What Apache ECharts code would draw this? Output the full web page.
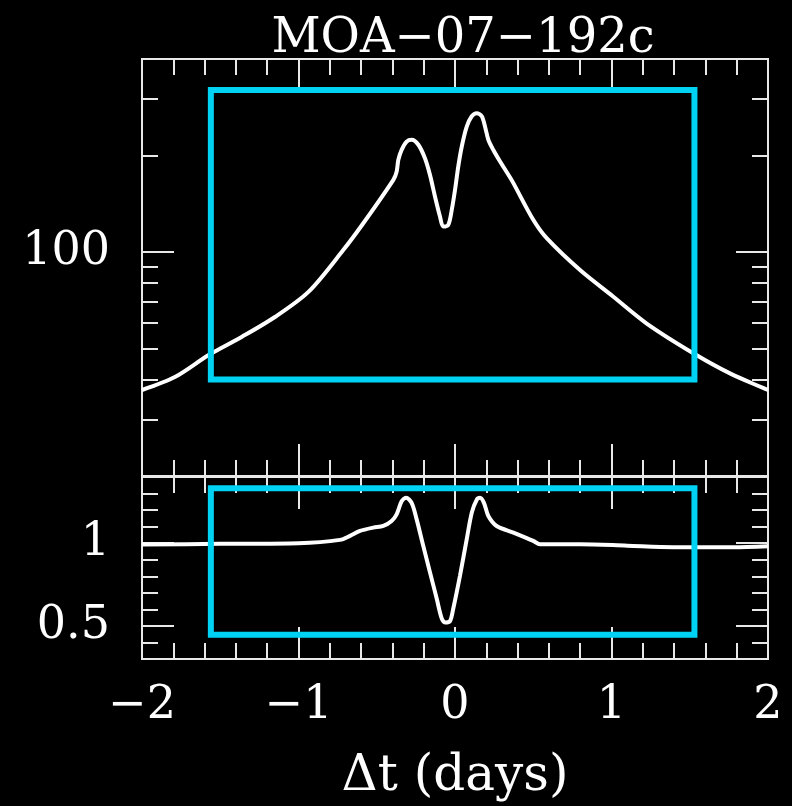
<!DOCTYPE html>
<html>
<head>
<meta charset="utf-8">
<script src="https://cdn.jsdelivr.net/npm/echarts@6/dist/echarts.min.js"></script>
<style>
  html, body { margin: 0; padding: 0; background: #000; }
  #main { width: 792px; height: 806px; }
</style>
</head>
<body>
<div id="main"></div>
<script>
// light curve (magnification) in the upper panel
const tTop = [-2.0, -1.787, -1.574, -1.361, -1.148, -0.935, -0.714, -0.586, -0.394, -0.373, -0.362, -0.341,
  -0.309, -0.277, -0.234, -0.192, -0.160, -0.128, -0.096, -0.075, -0.043, -0.021, 0.0, 0.021, 0.043, 0.075,
  0.107, 0.139, 0.171, 0.192, 0.213, 0.245, 0.288, 0.351, 0.373, 0.5, 0.586, 0.799, 1.012, 1.225, 1.523, 1.757, 2.0]
const magTop = [37.1, 40.8, 47.7, 54.4, 62.8, 75.2, 101.4, 122.9, 167.9, 178, 193.9, 208.3,
  221, 224, 216, 196, 174, 149, 129, 120, 121.5, 135, 156, 185, 213, 246,
  265, 271, 265, 246, 224, 208, 191.5, 171, 164, 126, 110.4, 87.8, 72.5, 59.8, 48.3, 41.8, 37.1]

// ratio in the lower panel
const tBot = [-2.0, -1.5, -1.0, -0.735, -0.671, -0.607, -0.522, -0.458, -0.405, -0.373, -0.341, -0.313,
  -0.277, -0.245, -0.203, -0.160, -0.117, -0.085, -0.064, -0.032, -0.011, 0.032, 0.075, 0.107, 0.139,
  0.160, 0.185, 0.213, 0.266, 0.373, 0.5, 0.543, 0.8, 1.1, 1.395, 1.777, 2.0]
const ratioBot = [0.992, 0.996, 1.0, 1.02, 1.044, 1.074, 1.094, 1.104, 1.134, 1.174, 1.253, 1.275,
  1.244, 1.144, 0.984, 0.825, 0.665, 0.545, 0.521, 0.529, 0.605, 0.804, 1.024, 1.184, 1.263,
  1.274, 1.244, 1.164, 1.104, 1.064, 1.014, 0.994, 0.994, 0.985, 0.976, 0.976, 0.982]

// cyan boxes
const boxT = [-1.56, 1.53]
const boxTopMag = [40, 320]
const boxBotRatio = [0.446, 1.332]

// ticks
const xMajor = [-2, -1, 0, 1, 2]
const xMinor = [-1.8, -1.6, -1.4, -1.2, -0.8, -0.6, -0.4, -0.2, 0.2, 0.4, 0.6, 0.8, 1.2, 1.4, 1.6, 1.8]
const topMajor = [100]
const topMinor = [30, 40, 50, 60, 70, 80, 90, 200, 300]
const botMajor = [0.5, 1]
const botMinor = [0.4, 0.6, 0.7, 0.8, 0.9, 1.1, 1.2, 1.3]

const frameColor = '#e8e8e8'
const cyan = '#00d2f4'
const font = 'DejaVu Serif'

function minusFmt (v) {
  return v < 0 ? '\u2212' + Math.abs(v) : String(v)
}

function xAx (grid, pos, ticks, len, withLabel) {
  return {
    type: 'value', gridIndex: grid, position: pos, min: -2, max: 2,
    axisLine: { show: true, onZero: false, lineStyle: { color: frameColor, width: 2 } },
    axisTick: { show: true, inside: true, length: len, customValues: ticks, lineStyle: { color: frameColor, width: 2 } },
    axisLabel: withLabel
      ? { show: true, customValues: ticks, margin: 24, color: '#fff', fontFamily: font, fontSize: 46, formatter: minusFmt }
      : { show: false },
    splitLine: { show: false }
  }
}

function yAx (grid, pos, type, min, max, ticks, len, withLabel) {
  return {
    type: type, gridIndex: grid, position: pos, min: min, max: max,
    axisLine: { show: true, onZero: false, lineStyle: { color: frameColor, width: 2 } },
    axisTick: { show: true, inside: true, length: len, customValues: ticks, lineStyle: { color: frameColor, width: 2 } },
    axisLabel: withLabel
      ? { show: true, customValues: ticks, margin: 32, color: '#fff', fontFamily: font, fontSize: 46 }
      : { show: false },
    splitLine: { show: false }
  }
}

function boxPoints (ys) {
  return [[boxT[0], ys[0]], [boxT[1], ys[0]], [boxT[1], ys[1]], [boxT[0], ys[1]], [boxT[0], ys[0]]]
}

const chart = echarts.init(document.getElementById('main'))
const option = {
  backgroundColor: '#000',
  animation: false,
  title: {
    text: 'MOA\u221207\u2212192c',
    left: 458,
    textAlign: 'center',
    top: 11,
    textStyle: { color: '#fff', fontFamily: font, fontSize: 48, fontWeight: 'normal' }
  },
  grid: [
    { left: 142, right: 24, top: 59, height: 417 },
    { left: 142, right: 24, top: 477, height: 182 }
  ],
  xAxis: [
    xAx(0, 'bottom', xMajor, 32, false),
    xAx(0, 'bottom', xMinor, 16, false),
    xAx(0, 'top', xMajor, 32, false),
    xAx(0, 'top', xMinor, 16, false),
    Object.assign(xAx(1, 'bottom', xMajor, 32, true), {
      name: '\u0394t (days)', nameLocation: 'middle', nameGap: 93,
      nameTextStyle: { color: '#fff', fontFamily: font, fontSize: 50 }
    }),
    xAx(1, 'bottom', xMinor, 16, false),
    xAx(1, 'top', xMajor, 32, false),
    xAx(1, 'top', xMinor, 16, false)
  ],
  yAxis: [
    yAx(0, 'left', 'log', 20, 400, topMajor, 32, true),
    yAx(0, 'left', 'log', 20, 400, topMinor, 16, false),
    yAx(0, 'right', 'log', 20, 400, topMajor, 32, false),
    yAx(0, 'right', 'log', 20, 400, topMinor, 16, false),
    yAx(1, 'left', 'value', 0.3, 1.4, botMajor, 32, true),
    yAx(1, 'left', 'value', 0.3, 1.4, botMinor, 16, false),
    yAx(1, 'right', 'value', 0.3, 1.4, botMajor, 32, false),
    yAx(1, 'right', 'value', 0.3, 1.4, botMinor, 16, false)
  ],
  series: [
    {
      type: 'line', xAxisIndex: 0, yAxisIndex: 0, symbol: 'none', smooth: 0.3, z: 2,
      lineStyle: { color: '#fff', width: 4 },
      data: tTop.map((t, i) => [t, magTop[i]])
    },
    {
      type: 'line', xAxisIndex: 0, yAxisIndex: 0, symbol: 'none', z: 3,
      lineStyle: { color: cyan, width: 6, join: 'miter', cap: 'square' },
      data: boxPoints(boxTopMag)
    },
    {
      type: 'line', xAxisIndex: 4, yAxisIndex: 4, symbol: 'none', smooth: 0.3, z: 2,
      lineStyle: { color: '#fff', width: 4 },
      data: tBot.map((t, i) => [t, ratioBot[i]])
    },
    {
      type: 'line', xAxisIndex: 4, yAxisIndex: 4, symbol: 'none', z: 3,
      lineStyle: { color: cyan, width: 6, join: 'miter', cap: 'square' },
      data: boxPoints(boxBotRatio)
    }
  ]
}
chart.setOption(option)
</script>
</body>
</html>
